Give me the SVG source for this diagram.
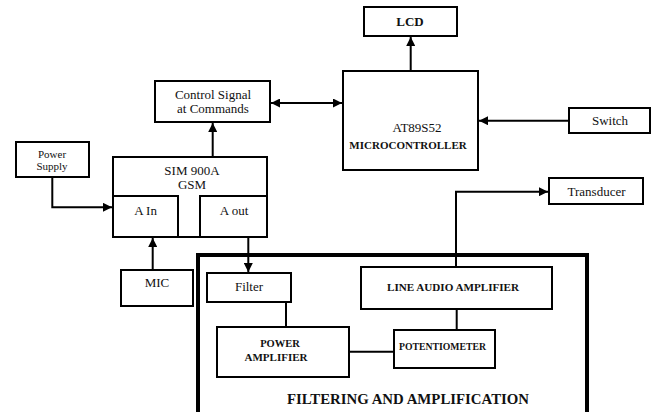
<svg xmlns="http://www.w3.org/2000/svg" width="654" height="412" viewBox="0 0 654 412" font-family="'Liberation Serif', serif">
  <style>
    .box { fill: #fff; stroke: #000; stroke-width: 2; }
    .big { fill: none; stroke: #000; stroke-width: 4; }
    .ln { fill: none; stroke: #000; stroke-width: 2; }
    text { font-family: 'Liberation Serif', serif; fill: #111; text-anchor: middle; }
    .t13 { font-size: 13px; }
    .t11 { font-size: 11px; }
    .b { font-weight: bold; }
  </style>
  <defs>
    <marker id="ah" viewBox="0 0 10 10" refX="10" refY="5" markerWidth="4.5" markerHeight="4.5" orient="auto-start-reverse" markerUnits="strokeWidth">
      <path d="M0,0 L10,5 L0,10 z" fill="#000"/>
    </marker>
  </defs>

  <rect class="big" x="198" y="255" width="389" height="170"/>

  <g id="control">
    <rect class="box" x="155" y="81" width="115" height="41"/>
    <text class="t13" x="213" y="99">Control Signal</text>
    <text class="t13" x="213" y="113">at Commands</text>
  </g>
  <g id="lcd">
    <rect class="box" x="364" y="7" width="93" height="29"/>
    <text class="t13 b" x="410" y="25.5">LCD</text>
  </g>
  <g id="mcu">
    <rect class="box" x="343" y="71" width="135" height="99"/>
    <text class="t13" x="417" y="132">AT89S52</text>
    <text class="t11 b" x="408" y="148.5">MICROCONTROLLER</text>
  </g>
  <g id="switch">
    <rect class="box" x="569" y="108" width="81" height="25"/>
    <text class="t13" x="610" y="125">Switch</text>
  </g>
  <g id="power-supply">
    <rect class="box" x="16" y="142" width="73" height="35"/>
    <text class="t11" x="52" y="158">Power</text>
    <text class="t11" x="52" y="170">Supply</text>
  </g>
  <g id="gsm">
    <rect class="box" x="113" y="157" width="154" height="80"/>
    <text class="t13" x="192" y="174.5">SIM 900A</text>
    <text class="t13" x="192" y="188.5">GSM</text>
  </g>
  <g id="a-in">
    <rect class="box" x="113" y="196" width="65" height="41"/>
    <text class="t13" x="145.5" y="215">A In</text>
  </g>
  <g id="a-out">
    <rect class="box" x="200" y="196" width="67" height="41"/>
    <text class="t13" x="234" y="214.5">A out</text>
  </g>
  <g id="mic">
    <rect class="box" x="121" y="270" width="72" height="36"/>
    <text class="t13" x="157" y="287">MIC</text>
  </g>
  <g id="transducer">
    <rect class="box" x="549" y="178" width="94" height="26"/>
    <text class="t13" x="596.5" y="196">Transducer</text>
  </g>
  <g id="filter">
    <rect class="box" x="207" y="273" width="84" height="29"/>
    <text class="t13" x="249" y="291">Filter</text>
  </g>
  <g id="line-audio-amplifier">
    <rect class="box" x="361" y="267" width="191" height="42"/>
    <text class="b" x="453" y="291" font-size="10" textLength="132" lengthAdjust="spacingAndGlyphs">LINE AUDIO AMPLIFIER</text>
  </g>
  <g id="power-amplifier">
    <rect class="box" x="217" y="327" width="132" height="50"/>
    <text class="b" x="280" y="347" font-size="10.5">POWER</text>
    <text class="b" x="276" y="361" font-size="10.5" textLength="63" lengthAdjust="spacingAndGlyphs">AMPLIFIER</text>
  </g>
  <g id="potentiometer">
    <rect class="box" x="394" y="330" width="101" height="38"/>
    <text class="b" x="442.5" y="350" font-size="9.5" textLength="87" lengthAdjust="spacingAndGlyphs">POTENTIOMETER</text>
  </g>
  <g id="filtering-label">
    <text class="b" x="408" y="404" font-size="14" textLength="242" lengthAdjust="spacingAndGlyphs">FILTERING AND AMPLIFICATION</text>
  </g>

  <g id="connectors">
    <path class="ln" d="M212.7,157 V123" marker-end="url(#ah)"/>
    <path class="ln" d="M271,103 H342" marker-start="url(#ah)" marker-end="url(#ah)"/>
    <path class="ln" d="M410.7,71 V37" marker-end="url(#ah)"/>
    <path class="ln" d="M569,120.7 H479" marker-end="url(#ah)"/>
    <path class="ln" d="M52.3,177 V207.3 H112" marker-end="url(#ah)"/>
    <path class="ln" d="M152.7,270 V238" marker-end="url(#ah)"/>
    <path class="ln" d="M248.3,237 V272" marker-end="url(#ah)"/>
    <path class="ln" d="M286,302 V327"/>
    <path class="ln" d="M349,351.7 H394"/>
    <path class="ln" d="M456.7,309 V330"/>
    <path class="ln" d="M456,267 V191.7 H548" marker-end="url(#ah)"/>
  </g>
</svg>
